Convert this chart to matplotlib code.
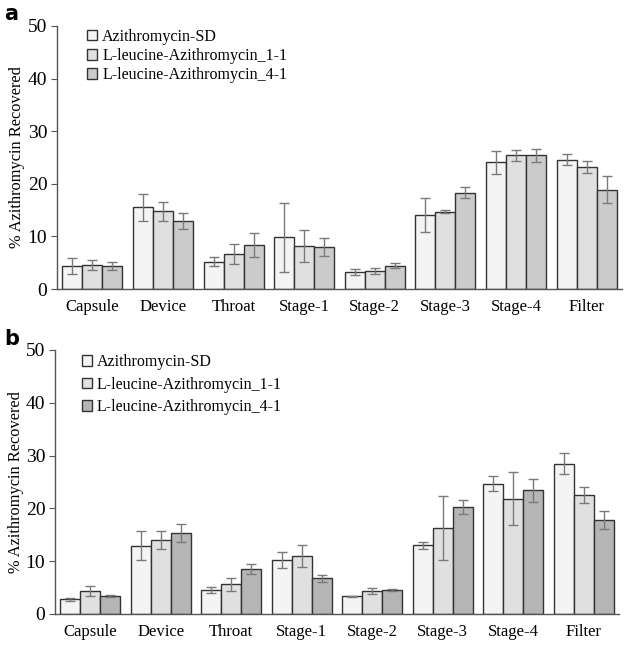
import matplotlib
matplotlib.use("Agg")
import matplotlib.pyplot as plt
import numpy as np

categories = ["Capsule", "Device", "Throat", "Stage-1", "Stage-2", "Stage-3", "Stage-4", "Filter"]
series_names = ["Azithromycin-SD", "L-leucine-Azithromycin_1-1", "L-leucine-Azithromycin_4-1"]

a_sd = [4.3, 15.5, 5.2, 9.8, 3.2, 14.1, 24.1, 24.6]
a_sd_err = [1.5, 2.5, 0.8, 6.5, 0.6, 3.2, 2.2, 1.0]
a_11 = [4.6, 14.8, 6.6, 8.2, 3.4, 14.7, 25.4, 23.2]
a_11_err = [1.0, 1.8, 1.9, 3.1, 0.6, 0.25, 1.1, 1.1]
a_41 = [4.4, 13.0, 8.4, 8.0, 4.4, 18.3, 25.4, 18.9]
a_41_err = [0.8, 1.5, 2.3, 1.65, 0.45, 1.05, 1.25, 2.5]

b_sd = [2.8, 12.9, 4.5, 10.2, 3.35, 13.0, 24.7, 28.5]
b_sd_err = [0.25, 2.75, 0.55, 1.45, 0.1, 0.7, 1.4, 1.9]
b_11 = [4.4, 14.0, 5.6, 11.0, 4.3, 16.3, 21.8, 22.5]
b_11_err = [0.95, 1.75, 1.25, 2.05, 0.55, 6.0, 5.0, 1.5]
b_41 = [3.4, 15.3, 8.5, 6.75, 4.55, 20.2, 23.4, 17.8]
b_41_err = [0.2, 1.7, 0.9, 0.6, 0.25, 1.3, 2.25, 1.75]

W, H = 628, 648
fig = plt.figure(figsize=(W/100, H/100), dpi=100)
plt.rcParams['font.family'] = ['Liberation Serif', 'DejaVu Serif']

def panel(rect, vals, errs, colors, label, label_xy, leg_pos, leg_spacing, ylab_x):
    ax = fig.add_axes(rect)
    x = np.arange(len(categories))
    bw = 0.283
    handles = []
    for i, (v, e, c) in enumerate(zip(vals, errs, colors)):
        h = ax.bar(x + (i - 1) * bw, v, width=bw, color=c, edgecolor='#333333', linewidth=1.0,
                   yerr=e, error_kw=dict(ecolor='#7a7a7a', elinewidth=1.0, capsize=3.5, capthick=1.0),
                   label=series_names[i], zorder=2)
        handles.append(h)
    ax.set_xlim(-0.5, 7.5)
    ax.set_ylim(0, 50)
    ax.set_yticks([0, 10, 20, 30, 40, 50])
    ax.set_xticks(x)
    ax.set_xticklabels(categories, fontsize=12)
    ax.tick_params(axis='x', length=0, pad=7)
    ax.tick_params(axis='y', labelsize=14, length=4, color='#555555', direction='out', pad=3)
    for s in ['top', 'right']:
        ax.spines[s].set_visible(False)
    for s in ['left', 'bottom']:
        ax.spines[s].set_color('#555555')
        ax.spines[s].set_linewidth(1.0)
    ax.set_ylabel('% Azithromycin Recovered', fontsize=11.8)
    ax.yaxis.set_label_coords(ylab_x, 0.5)
    ax.legend(handles=handles, loc='upper left', bbox_to_anchor=leg_pos, frameon=False,
              fontsize=11.5, handlelength=0.65, handleheight=0.65, handletextpad=0.3,
              labelspacing=leg_spacing, borderaxespad=0, borderpad=0)
    fig.text(label_xy[0]/W, 1 - label_xy[1]/H, label, fontsize=15, fontweight='bold',
             family='DejaVu Sans', va='baseline', ha='left')
    return ax

colors_a = ['#f4f4f4', '#e0e0e0', '#cbcbcb']
colors_b = ['#f4f4f4', '#e0e0e0', '#b5b5b5']

rect_a = [57/W, 1 - 289/H, (622-57)/W, (289-26)/H]
panel(rect_a, [a_sd, a_11, a_41], [a_sd_err, a_11_err, a_41_err], colors_a, 'a', (4, 20),
      (0.053, 0.99), 0.2, (25-57)/565)

rect_b = [55/W, 1 - 614/H, (619-55)/W, (614-350)/H]
panel(rect_b, [b_sd, b_11, b_41], [b_sd_err, b_11_err, b_41_err], colors_b, 'b', (4, 345),
      (0.047, 0.985), 0.42, (24-55)/564)

fig.savefig('out.png', dpi=100)
